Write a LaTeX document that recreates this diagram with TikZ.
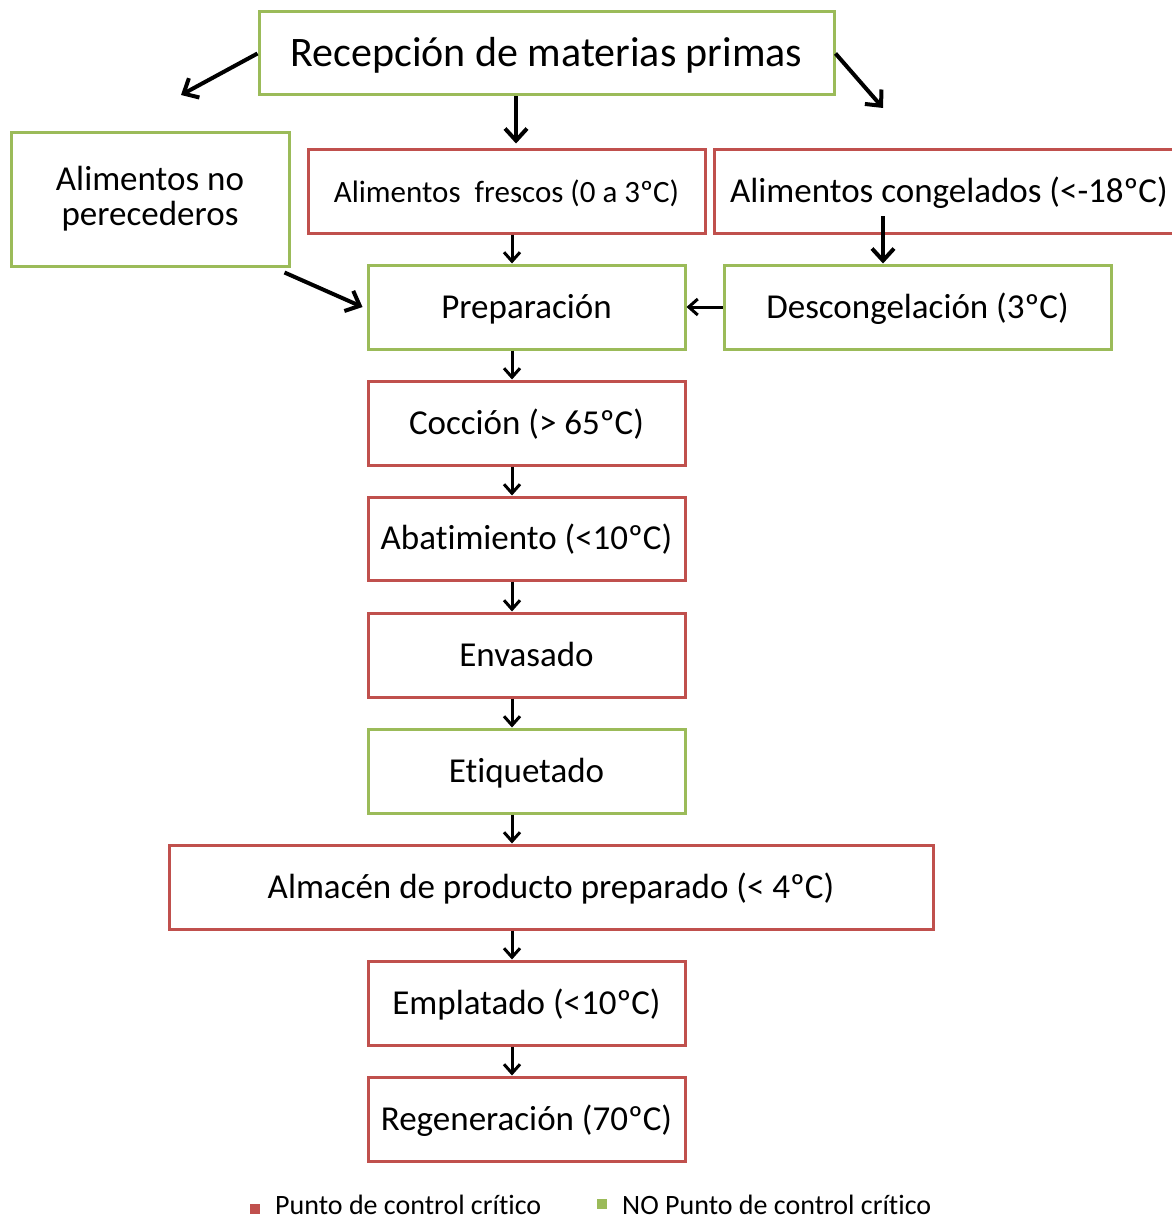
\documentclass[tikz,border=0pt]{standalone}
\usepackage{fontspec}
\setmainfont[RawFeature={-liga;-clig;-dlig;-calt}]{Carlito}
\usetikzlibrary{arrows.meta,calc}
\definecolor{ccpred}{RGB}{192,80,77}
\definecolor{okgreen}{RGB}{155,187,89}
\begin{document}
\begin{tikzpicture}[x=1pt,y=-1pt,
  box/.style={draw, line width=3pt, rectangle, inner sep=0pt, align=center,
    font=\fontsize{35}{42}\selectfont, text height=28pt, text depth=6pt},
  crit/.style={box, draw=ccpred},
  noncrit/.style={box, draw=okgreen},
  arr/.style={line width=3pt, -{Straight Barb[length=9pt,width=16pt,line width=3pt]}},
  bigarr/.style={line width=4pt, -{Straight Barb[length=12pt,width=22pt,line width=4pt]}},
  legsq/.style={rectangle, inner sep=0pt, minimum size=10pt},
  legtxt/.style={anchor=west, inner sep=0pt, font=\fontsize{28}{32}\selectfont}]
\useasboundingbox (0,0) rectangle (1171,1220);

% boxes
\node[noncrit, minimum width=575, minimum height=83, font=\fontsize{42}{48}\selectfont,
  text height=34pt, text depth=7pt]
  (recep) at (546.5,53.5) {Recepción de materias primas};
\node[noncrit, minimum width=278, minimum height=133, font=\fontsize{35}{35}\selectfont,
  text height=56pt, text depth=5pt]
  (noper) at (150,199.5) {Alimentos no\\perecederos};
\node[crit, minimum width=397, minimum height=84, font=\fontsize{31}{36}\selectfont,
  text height=27pt, text depth=5pt]
  (fresc) at (506.5,191) {Alimentos\ \ frescos (0 a 3ºC)};
\node[crit, minimum width=470, minimum height=84] (cong) at (949,191)
  {Alimentos congelados (<-18ºC)};
\node[noncrit, minimum width=387, minimum height=84] (desc) at (917.5,307) {Descongelación (3ºC)};
\node[noncrit, minimum width=317, minimum height=84] (prep) at (526.5,307) {Preparación};
\node[crit, minimum width=317, minimum height=84] (cocc) at (526.5,423) {Cocción (> 65ºC)};
\node[crit, minimum width=317, minimum height=83] (abat) at (526.5,538.5) {Abatimiento (<10ºC)};
\node[crit, minimum width=317, minimum height=84] (envas) at (526.5,655) {Envasado};
\node[noncrit, minimum width=317, minimum height=84] (etiq) at (526.5,771) {Etiquetado};
\node[crit, minimum width=764, minimum height=84] (almac) at (551,887) {Almacén de producto preparado (< 4ºC)};
\node[crit, minimum width=317, minimum height=84] (empl) at (526.5,1003) {Emplatado (<10ºC)};
\node[crit, minimum width=317, minimum height=84] (regen) at (526.5,1119) {Regeneración (70ºC)};

% guide coordinates for the connectors
\coordinate (ax) at (512,0);
\coordinate (rx) at (516,0);
\coordinate (dx) at (883,0);
\coordinate (leftend) at (181,95);
\coordinate (rightend) at (883,108);
\coordinate (congout) at (883,216);

% connectors from the reception box
\draw[bigarr] (recep.west) -- (leftend);
\draw[bigarr] (recep.east) -- (rightend);
\draw[bigarr] (recep.south -| rx) -- ($(fresc.north -| rx)+(0,-4)$);

% frozen goods branch
\draw[bigarr] (congout) -- (desc.north -| dx);
\draw[arr] (desc.west) -- (prep.east);
\draw[bigarr] ($(noper.south east)+(-6,5)$) -- ($(prep.west)+(-4,0)$);

% main line
\draw[arr] (fresc.south -| ax) -- (prep.north -| ax);
\draw[arr] (prep.south -| ax) -- (cocc.north -| ax);
\draw[arr] (cocc.south -| ax) -- (abat.north -| ax);
\draw[arr] (abat.south -| ax) -- (envas.north -| ax);
\draw[arr] (envas.south -| ax) -- (etiq.north -| ax);
\draw[arr] (etiq.south -| ax) -- (almac.north -| ax);
\draw[arr] (almac.south -| ax) -- (empl.north -| ax);
\draw[arr] (empl.south -| ax) -- (regen.north -| ax);

% legend
\node[legsq, fill=ccpred] (redsq) at (255,1209) {};
\node[legtxt] (redtxt) at (275,1205) {Punto de control crítico};
\node[legsq, fill=okgreen] (greensq) at (602,1204) {};
\node[legtxt] (greentxt) at (622,1205) {NO Punto de control crítico};
\end{tikzpicture}
\end{document}
